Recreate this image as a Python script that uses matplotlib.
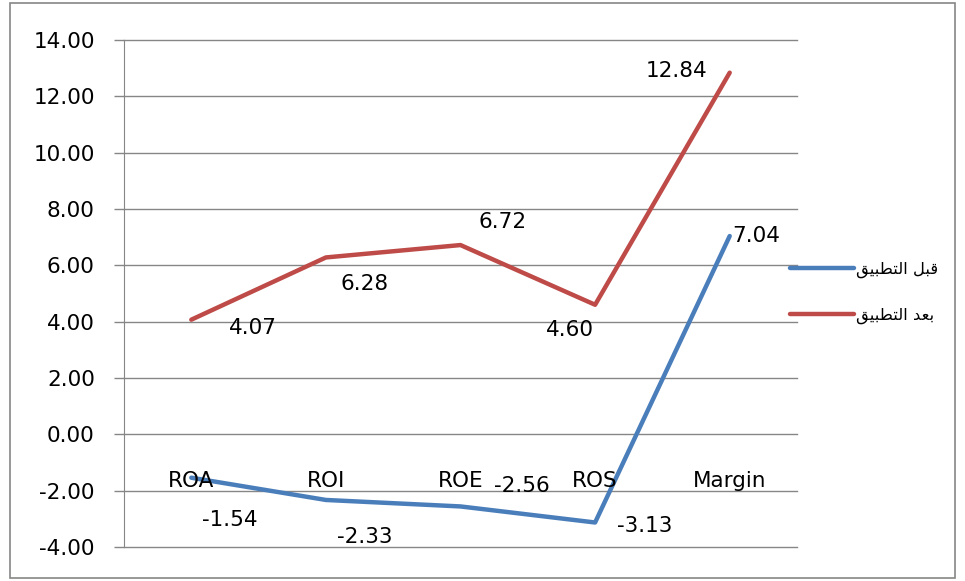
import numpy as np
import matplotlib.pyplot as plt
from matplotlib.patches import Rectangle

# data
categories = ['ROA', 'ROI', 'ROE', 'ROS', 'Margin']
before_vals = [-1.54, -2.33, -2.56, -3.13, 7.04]
after_vals = [4.07, 6.28, 6.72, 4.60, 12.84]
y_ticks = [-4, -2, 0, 2, 4, 6, 8, 10, 12, 14]

# Arabic legend labels, pre-shaped (presentation forms, visual order)
label_before = '\uFED6\uFEF4\uFE92\uFEC4\uFE98\uFEDF\uFE8D \uFEDE\uFE92\uFED7'   # قبل التطبيق
label_after = '\uFED6\uFEF4\uFE92\uFEC4\uFE98\uFEDF\uFE8D \uFEAA\uFECC\uFE91'    # بعد التطبيق

# label offsets in pixels (dx, dy) relative to each point
before_offsets = [(39, -42), (39, -37), (61, 20), (50, -4), (27, 0)]
after_offsets = [(62, -8), (39, -27), (42, 23), (-25, -25), (-53, 2)]

plt.rcParams['font.family'] = ['DejaVu Sans']
fs = 15.5

fig = plt.figure(figsize=(9.65, 5.81), dpi=100)
ax = fig.add_axes([124 / 965, 1 - 547 / 581, (797 - 124) / 965, (547 - 40) / 581])

x = np.arange(len(categories))
blue = '#4A7EBB'
red = '#BE4B48'
ax.plot(x, before_vals, color=blue, lw=3.2, label=label_before, solid_capstyle='round')
ax.plot(x, after_vals, color=red, lw=3.2, label=label_after, solid_capstyle='round')

for xi, v, (dx, dy) in zip(x, before_vals, before_offsets):
    ax.annotate(f'{v:.2f}', (xi, v), xytext=(dx, dy), textcoords='offset pixels',
                ha='center', va='center', fontsize=fs, color='black')
for xi, v, (dx, dy) in zip(x, after_vals, after_offsets):
    ax.annotate(f'{v:.2f}', (xi, v), xytext=(dx, dy), textcoords='offset pixels',
                ha='center', va='center', fontsize=fs, color='black')

ax.set_xlim(-0.5, len(categories) - 0.5)
ax.set_ylim(-4, 14)
ax.set_yticks(y_ticks)
ax.set_yticklabels([f'{t:.2f}' for t in y_ticks], fontsize=fs)
ax.tick_params(axis='y', length=7, width=1, color='#868686', pad=14)
ax.set_xticks([])

for t in y_ticks:
    ax.axhline(t, color='#868686', lw=1, zorder=0, clip_on=False)

for s in ['top', 'right', 'bottom']:
    ax.spines[s].set_visible(False)
ax.spines['left'].set_color('#868686')

# category labels sit just under the zero line
for xi, c in zip(x, categories):
    ax.annotate(c, (xi, 0), xytext=(0, -47), textcoords='offset pixels',
                ha='center', va='center', fontsize=fs, color='black')

fig.legend(loc='center left', bbox_to_anchor=(775 / 965, 1 - 293 / 581), frameon=False,
           fontsize=11.8, handlelength=3.9, handletextpad=0.15, labelspacing=1.8)

fig.patches.append(Rectangle((10 / 965, 3 / 581), 945 / 965, 575 / 581, transform=fig.transFigure,
                             fill=False, edgecolor='#868686', lw=1.2))

fig.savefig('out.png', dpi=100)
